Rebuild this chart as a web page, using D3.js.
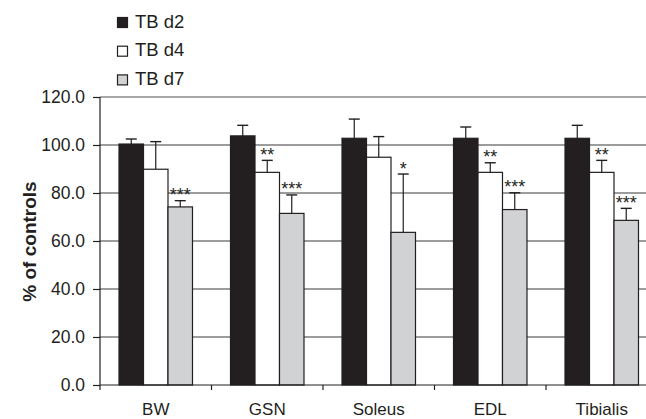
<!DOCTYPE html>
<html><head><meta charset="utf-8">
<script src="https://cdn.jsdelivr.net/npm/d3@7"></script>
<style>body{margin:0;background:#fff}svg{display:block}text{font-family:"Liberation Sans",Arial,sans-serif;fill:#231f20}</style>
</head><body><svg id="c" width="646" height="419"></svg>
<script>
const categories = ["BW", "GSN", "Soleus", "EDL", "Tibialis"];
const seriesNames = ["TB d2", "TB d4", "TB d7"];
const d2 = [100.4, 103.8, 102.8, 102.8, 102.8];
const d2Err = [2.1, 4.4, 8.0, 4.7, 5.4];
const d4 = [89.9, 88.6, 94.9, 88.6, 88.6];
const d4Err = [11.5, 5.0, 8.6, 4.0, 5.0];
const d7 = [74.2, 71.5, 63.6, 73.1, 68.6];
const d7Err = [2.6, 7.7, 24.3, 7.0, 5.0];
const d2Stars = ["", "", "", "", ""];
const d4Stars = ["", "**", "", "**", "**"];
const d7Stars = ["***", "***", "*", "***", "***"];
const yTicks = [0, 20, 40, 60, 80, 100, 120];

const fills = ["#231f20", "#ffffff", "#d1d2d4"];
const series = [
  {name: seriesNames[0], vals: d2, err: d2Err, stars: d2Stars},
  {name: seriesNames[1], vals: d4, err: d4Err, stars: d4Stars},
  {name: seriesNames[2], vals: d7, err: d7Err, stars: d7Stars}
];

const svg = d3.select("#c");
const mLeft = 100, mRight = 657.5, mTop = 97, mBottom = 385;
const x = d3.scaleBand().domain(categories).range([mLeft, mRight]).padding(0);
const x1 = d3.scaleBand().domain(d3.range(3)).range([0, x.bandwidth()]).paddingInner(0).paddingOuter(0.776);
const y = d3.scaleLinear().domain([0, 120]).range([mBottom, mTop]);

// grid lines
svg.append("g").selectAll("line").data(yTicks.filter(t => t > 0)).join("line")
  .attr("x1", mLeft).attr("x2", 646).attr("y1", d => y(d)).attr("y2", d => y(d))
  .attr("stroke", d => d === 120 ? "#8a8a8a" : "#3a3a3a").attr("stroke-width", d => d === 120 ? 1.5 : 1.2);

// bars
const g = svg.append("g");
series.forEach((s, si) => {
  categories.forEach((c, ci) => {
    const bx = x(c) + x1(si), bw = x1.bandwidth();
    const v = s.vals[ci], e = s.err[ci];
    const cx = bx + bw / 2;
    g.append("line").attr("x1", cx).attr("x2", cx).attr("y1", y(v)).attr("y2", y(v + e))
      .attr("stroke", "#231f20").attr("stroke-width", 1.2);
    g.append("line").attr("x1", cx - 5.5).attr("x2", cx + 5.5).attr("y1", y(v + e)).attr("y2", y(v + e))
      .attr("stroke", "#231f20").attr("stroke-width", 1.4);
    g.append("rect").attr("x", bx).attr("y", y(v)).attr("width", bw).attr("height", y(0) - y(v))
      .attr("fill", fills[si]).attr("stroke", "#231f20").attr("stroke-width", 1.2);
    if (s.stars[ci]) {
      g.append("text").attr("x", cx).attr("y", y(v + e) + 0.5).attr("text-anchor", "middle")
        .attr("font-size", 18).text(s.stars[ci]);
    }
  });
});

// y axis
const yAxis = svg.append("g").attr("transform", `translate(${mLeft},0)`)
  .call(d3.axisLeft(y).tickValues(yTicks).tickFormat(d3.format(".1f")).tickSize(7).tickPadding(8));
yAxis.select(".domain").attr("stroke", "#231f20").attr("stroke-width", 1.2).attr("d", `M0,${mTop}V${mBottom}`);
yAxis.selectAll(".tick line").attr("stroke", "#231f20").attr("stroke-width", 1.2);
yAxis.selectAll(".tick text").attr("font-size", 17.5).attr("font-family", '"Liberation Sans",Arial,sans-serif').attr("fill", "#231f20");

// x axis
const xAxis = svg.append("g").attr("transform", `translate(0,${mBottom})`);
xAxis.append("line").attr("x1", mLeft).attr("x2", 646).attr("y1", 0).attr("y2", 0).attr("stroke", "#231f20").attr("stroke-width", 1.2);
xAxis.selectAll("line.tk").data(categories).join("line").attr("class", "tk")
  .attr("x1", d => x(d)).attr("x2", d => x(d)).attr("y1", 0).attr("y2", 5).attr("stroke", "#231f20").attr("stroke-width", 1.2);
xAxis.selectAll("text").data(categories).join("text")
  .attr("x", d => x(d) + x.bandwidth() / 2).attr("y", 30).attr("text-anchor", "middle").attr("font-size", 17).text(d => d);

// y label
svg.append("text").attr("transform", "translate(36,241.5) rotate(-90)").attr("text-anchor", "middle")
  .attr("font-size", 19).attr("font-weight", "bold").text("% of controls");

// legend
const leg = svg.append("g");
series.forEach((s, i) => {
  const yy = 27.5 + i * 28.7;
  leg.append("rect").attr("x", 117.5).attr("y", yy - 10).attr("width", 10).attr("height", 10)
    .attr("fill", fills[i]).attr("stroke", "#231f20").attr("stroke-width", 1.2);
  leg.append("text").attr("x", 135).attr("y", yy).attr("font-size", 18.5).text(s.name);
});
</script></body></html>
